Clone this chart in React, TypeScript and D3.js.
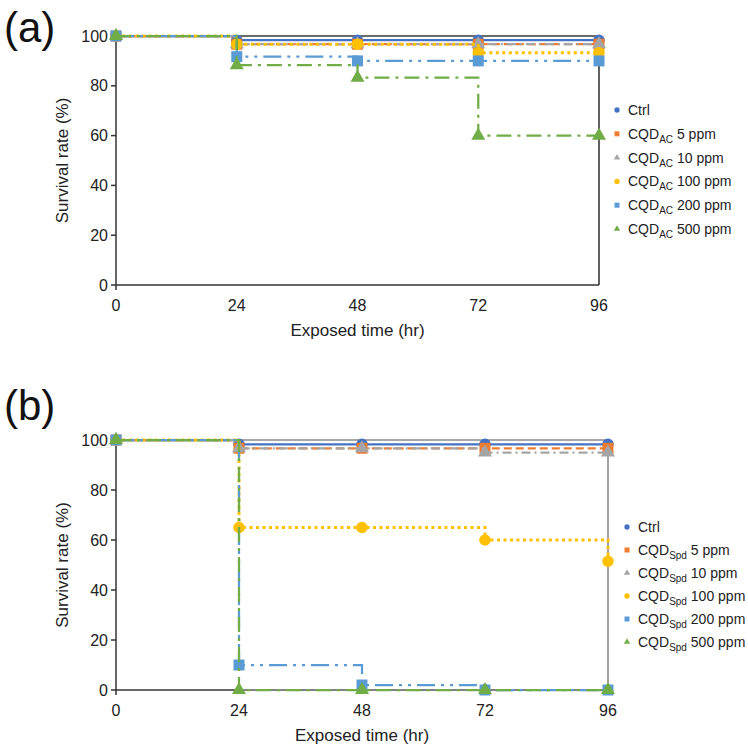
import React from 'react';
import * as d3 from 'd3';

const times = [0, 24, 48, 72, 96];
const yTicks = [0, 20, 40, 60, 80, 100];

const seriesNames = ['Ctrl', '5 ppm', '10 ppm', '100 ppm', '200 ppm', '500 ppm'];
const colors = ['#4472C4', '#ED7D31', '#A5A5A5', '#FFC000', '#5B9BD5', '#70AD47'];
const markers = ['circle', 'square', 'triangle', 'circle', 'square', 'triangle'];
const dashes = ['', '8,4', '9,4,2,4', '3,3.5', '18,6,3,6,3,6', '15,6,3,6'];

// survival (%) per series, at each exposure time
const valuesA = [
  [100, 98.3, 98.3, 98.3, 98.3],
  [100, 96.7, 96.7, 96.7, 96.7],
  [100, 96.7, 96.7, 96.7, 96.7],
  [100, 96.7, 96.7, 93.3, 93.3],
  [100, 91.7, 90, 90, 90],
  [100, 88.3, 83.3, 60, 60],
];
const valuesB = [
  [100, 98.3, 98.3, 98.3, 98.3],
  [100, 96.7, 96.7, 96.7, 96.7],
  [100, 96.7, 96.7, 95, 95],
  [100, 65, 65, 60, 51.5],
  [100, 10, 2, 0, 0],
  [100, 0, 0, 0, 0],
];

// outline series drawn behind the data
const frameA: [number, number][] = [[0, 100], [96, 100], [96, 0]];
const frameB: [number, number][] = [[0, 100], [96, 100], [96, 0], [24, 0]];

const FONT = '"Liberation Sans", Arial, sans-serif';

const symbolType = (m: string) =>
  m === 'circle' ? d3.symbolCircle : m === 'square' ? d3.symbolSquare : d3.symbolTriangle;

const markerSize = (m: string, big: boolean) => {
  if (m === 'circle') return big ? 105 : 22;
  if (m === 'square') return big ? 121 : 25;
  return big ? 85 : 18;
};

interface PanelProps {
  label: string;
  labelY: number;
  sub: string;
  values: number[][];
  frame: [number, number][];
  frameColor: string;
  x0: number;
  x1: number;
  yTop: number;
  yBottom: number;
  legendX: number;
  legendY: number;
  legendStep: number;
}

const Panel: React.FC<PanelProps> = ({
  label, labelY, sub, values, frame, frameColor, x0, x1, yTop, yBottom, legendX, legendY, legendStep,
}) => {
  const x = d3.scaleLinear().domain([0, 96]).range([x0, x1]);
  const y = d3.scaleLinear().domain([0, 100]).range([yBottom, yTop]);
  const step = d3
    .line<[number, number]>()
    .x((d) => x(d[0]))
    .y((d) => y(d[1]))
    .curve(d3.curveStepAfter);
  const plain = d3
    .line<[number, number]>()
    .x((d) => x(d[0]))
    .y((d) => y(d[1]));

  return (
    <g fontFamily={FONT}>
      <text x={4} y={labelY} fontSize={42} fill="#111">{label}</text>

      {/* axes */}
      <line x1={x0} x2={x0} y1={y(100)} y2={y(0) + 5} stroke="#333" strokeWidth={1.5} />
      <line x1={x0} x2={x1} y1={y(0)} y2={y(0)} stroke="#333" strokeWidth={1.5} />
      {yTicks.map((t) => (
        <g key={t}>
          <line x1={x0 - 5} x2={x0} y1={y(t)} y2={y(t)} stroke="#333" strokeWidth={1.5} />
          <text x={x0 - 8} y={y(t)} dy="0.35em" textAnchor="end" fontSize={16} fill="#222">{t}</text>
        </g>
      ))}
      {times.map((t) => (
        <text key={t} x={x(t)} y={y(0) + 20} dy="0.35em" textAnchor="middle" fontSize={16} fill="#222">{t}</text>
      ))}
      <text x={(x0 + x1) / 2} y={y(0) + 45} dy="0.35em" textAnchor="middle" fontSize={17} fill="#222">
        Exposed time (hr)
      </text>
      <text
        transform={`translate(62,${(yTop + yBottom) / 2}) rotate(-90)`}
        textAnchor="middle"
        dy="0.35em"
        fontSize={17}
        fill="#222"
      >
        Survival rate (%)
      </text>

      <path d={plain(frame) || undefined} fill="none" stroke={frameColor} strokeWidth={1.6} />

      {values.map((vals, i) => {
        const pts = times.map((t, j) => [t, vals[j]] as [number, number]);
        return (
          <g key={i}>
            <path
              d={step(pts) || undefined}
              fill="none"
              stroke={colors[i]}
              strokeWidth={i === 3 ? 3 : 2.25}
              strokeDasharray={dashes[i] || undefined}
            />
            {pts.map((p, j) => (
              <path
                key={j}
                transform={`translate(${x(p[0])},${y(p[1])})`}
                d={d3.symbol().type(symbolType(markers[i])).size(markerSize(markers[i], true))() || undefined}
                fill={colors[i]}
              />
            ))}
          </g>
        );
      })}

      {seriesNames.map((name, i) => {
        const ly = legendY + i * legendStep;
        return (
          <g key={name}>
            <path
              transform={`translate(${legendX},${ly})`}
              d={d3.symbol().type(symbolType(markers[i])).size(markerSize(markers[i], false))() || undefined}
              fill={colors[i]}
            />
            <text x={legendX + 11} y={ly} dy="0.35em" fontSize={14} fill="#222">
              {i === 0 ? (
                'Ctrl'
              ) : (
                <>
                  CQD
                  <tspan fontSize={10} dy={4}>{sub}</tspan>
                  <tspan dy={-4}>{` ${name}`}</tspan>
                </>
              )}
            </text>
          </g>
        );
      })}
    </g>
  );
};

export default function App() {
  return (
    <svg width={748} height={754} style={{ position: 'absolute', left: 0, top: 0, background: '#fff' }}>
      <Panel
        label="(a)"
        labelY={42}
        sub="AC"
        values={valuesA}
        frame={frameA}
        frameColor="#3a3a3a"
        x0={116}
        x1={599}
        yTop={36}
        yBottom={285}
        legendX={617}
        legendY={110}
        legendStep={23.8}
      />
      <Panel
        label="(b)"
        labelY={420}
        sub="Spd"
        values={valuesB}
        frame={frameB}
        frameColor="#8c8c8c"
        x0={116}
        x1={608}
        yTop={440}
        yBottom={690}
        legendX={627}
        legendY={527}
        legendStep={23}
      />
    </svg>
  );
}
